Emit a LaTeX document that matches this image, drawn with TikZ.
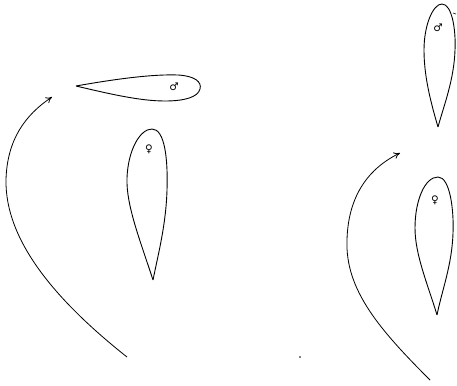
\documentclass[tikz,border=0pt]{standalone}
\usepackage{fontspec}
\usepackage{tikz}
\usetikzlibrary{arrows.meta}
\newfontfamily\signfont{DejaVu Sans}

\begin{document}
\begin{tikzpicture}[x=1pt, y=-1pt,
  leaf/.style={draw=black, line width=0.9pt, line join=round},
  sign/.style={inner sep=0pt, font=\signfont\bfseries\fontsize{10.5}{10.5}\selectfont},
  sweep/.style={-{To[length=2.2mm, width=2.4mm]}, line width=0.8pt}]
\useasboundingbox (0,0) rectangle (457,385);
% horizontal leaf, male
\draw[leaf] (76,86) .. controls (110,80) and (150,74) .. (178,75)
  .. controls (195,76) and (202,82) .. (200,89)
  .. controls (198,97) and (185,101) .. (165,101)
  .. controls (140,101) and (110,94) .. (76,86);
\node[sign] (m1) at (174,87) {♂};
% upright leaf, female (left)
\draw[leaf] (153,280) .. controls (140,240) and (126,205) .. (127,178)
  .. controls (128,150) and (140,129) .. (152,129)
  .. controls (165,129) and (168,160) .. (167,190)
  .. controls (166,225) and (158,255) .. (153,280);
\node[sign] (f1) at (149,149) {♀};
% upright leaf, male (right)
\draw[leaf] (438,127) .. controls (430,100) and (424,75) .. (424,50)
  .. controls (424,25) and (433,4) .. (442,4)
  .. controls (452,4) and (456,30) .. (455,50)
  .. controls (454,80) and (444,105) .. (438,127);
\node[sign] (m2) at (438,28) {♂};
\draw[line width=0.6pt] (453,13) -- (456,14);
% upright leaf, female (right)
\draw[leaf] (437,315) .. controls (428,285) and (415,255) .. (415,228)
  .. controls (415,200) and (425,177) .. (438,177)
  .. controls (450,177) and (454,210) .. (453,233)
  .. controls (452,265) and (442,290) .. (437,315);
\node[sign] (f2) at (435,200) {♀};
% sweeping arrows
\coordinate (swingL-a) at (127,357);
\coordinate (swingL-b) at (52,97);
\coordinate (swingR-a) at (430,380);
\coordinate (swingR-b) at (400,153);
\draw[sweep] (swingL-a) .. controls (55,300) and (5,240) .. (6,180)
  .. controls (7,140) and (25,115) .. (swingL-b);
\draw[sweep] (swingR-a) .. controls (380,330) and (345,290) .. (347,240)
  .. controls (348,200) and (365,170) .. (swingR-b);
\fill (300,357) circle (0.9);
\end{tikzpicture}
\end{document}
